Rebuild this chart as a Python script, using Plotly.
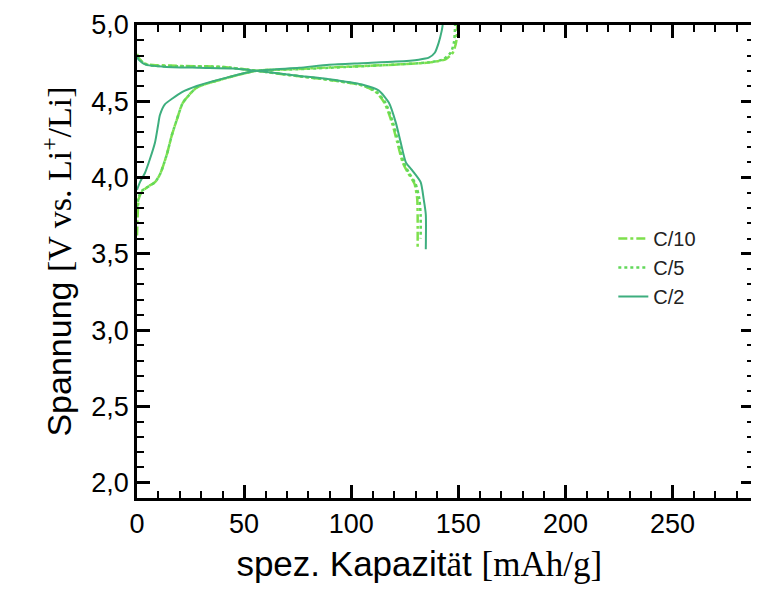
import plotly.graph_objects as go

# --- data (capacity in mAh/g, voltage in V) ---
c2_charge_cap = [0, 1.4, 3.7, 6, 8.4, 9.8, 10.7, 13, 16.7, 21, 27.9, 43.2, 55.8, 75.7, 89.7, 105, 120.8, 131.5, 136.2, 139, 140.8, 142.2, 142.7]
c2_charge_v = [3.92, 3.97, 4.03, 4.12, 4.23, 4.34, 4.41, 4.48, 4.52, 4.56, 4.60, 4.66, 4.70, 4.72, 4.74, 4.75, 4.76, 4.773, 4.786, 4.818, 4.883, 4.96, 5.0]
c2_dis_cap = [0, 1, 4, 12, 29, 45, 55.8, 75, 89.7, 105, 112.9, 117.6, 120.8, 123.1, 125.5, 128.3, 132.4, 133.8, 134.8, 134.8]
c2_dis_v = [4.79, 4.77, 4.74, 4.727, 4.72, 4.715, 4.70, 4.668, 4.645, 4.61, 4.57, 4.49, 4.36, 4.23, 4.10, 4.05, 3.97, 3.86, 3.76, 3.53]

c5_charge_cap = [0, 0.8, 2, 4, 8.4, 10.7, 13.9, 16.3, 18.6, 21.4, 27.9, 38.6, 55.8, 75, 90, 120, 136, 143, 146.5, 148, 148.5]
c5_charge_v = [3.80, 3.87, 3.91, 3.93, 3.97, 4.02, 4.15, 4.28, 4.38, 4.49, 4.59, 4.64, 4.70, 4.71, 4.72, 4.74, 4.755, 4.775, 4.82, 4.89, 5.0]
c5_dis_cap = [0, 1, 3, 6, 20, 40, 55.8, 75, 90, 105, 112, 116, 119.5, 122, 124.5, 127, 130, 131.8, 132.4, 132.4]
c5_dis_v = [4.80, 4.78, 4.75, 4.735, 4.73, 4.725, 4.70, 4.665, 4.64, 4.605, 4.56, 4.49, 4.36, 4.23, 4.10, 4.03, 3.96, 3.86, 3.75, 3.60]

c10_charge_cap = [0, 0.3, 0.8, 2, 5, 8.4, 10.7, 13.9, 16.3, 18.6, 21.4, 27.9, 38.6, 55.8, 75, 90, 120, 137, 144, 147.5, 149, 149.5]
c10_charge_v = [3.62, 3.75, 3.86, 3.90, 3.94, 3.97, 4.02, 4.15, 4.28, 4.38, 4.49, 4.59, 4.64, 4.70, 4.712, 4.722, 4.74, 4.755, 4.775, 4.82, 4.89, 5.0]
c10_dis_cap = [0, 1, 3, 6, 20, 40, 55.8, 75, 90, 105, 111.5, 115.5, 119, 121.5, 124, 126.5, 129.5, 130.8, 131, 131]
c10_dis_v = [4.81, 4.78, 4.75, 4.74, 4.732, 4.725, 4.70, 4.665, 4.64, 4.605, 4.56, 4.49, 4.36, 4.23, 4.10, 4.03, 3.96, 3.86, 3.75, 3.53]

x_ticks = [0, 50, 100, 150, 200, 250]
y_ticks = [2.0, 2.5, 3.0, 3.5, 4.0, 4.5, 5.0]

series = [
    ("C/10", "#7ee04c", "dashdot", 2.5, [(c10_charge_cap, c10_charge_v), (c10_dis_cap, c10_dis_v)]),
    ("C/5", "#62d85a", "dot", 2.5, [(c5_charge_cap, c5_charge_v), (c5_dis_cap, c5_dis_v)]),
    ("C/2", "#3dae7e", "solid", 2, [(c2_charge_cap, c2_charge_v), (c2_dis_cap, c2_dis_v)]),
]

fig = go.Figure()
for name, color, dash, width, curves in series:
    for i, (xs, ys) in enumerate(curves):
        fig.add_trace(go.Scatter(
            x=xs, y=ys, mode="lines", name=name, legendgroup=name,
            showlegend=(i == 0),
            line=dict(color=color, dash=dash, width=width, shape="spline", smoothing=0.6),
        ))

axis_common = dict(
    showline=True, linecolor="black", linewidth=2.5, mirror="allticks",
    ticks="inside", ticklen=13, tickwidth=2.5, tickcolor="black",
    showgrid=False, zeroline=False, ticklabeloverflow="allow",
    tickfont=dict(family="Liberation Sans, Arial", size=27, color="black"),
)

# trailing padding (non-breaking spaces closed by a zero-width char) shifts the centred title left
PAD = "\u00a0" * 6 + "\u200b"

# page body has an 8px margin: compensate so the plot area sits at 137..757 x 22..498
fig.update_layout(
    width=751, height=592,
    margin=dict(l=129, r=2, t=14, b=102),
    paper_bgcolor="white", plot_bgcolor="white",
    separators=",.",
    font=dict(family="Liberation Sans, Arial", color="black"),
    xaxis=dict(
        range=[0, 288], tickvals=x_ticks,
        minor=dict(dtick=10, tick0=0, ticks="inside", ticklen=7, tickwidth=1.5, tickcolor="black"),
        title=dict(text="spez. Kapazit<span style='font-family:Liberation Serif'>ä</span>t "
                        "<span style='font-family:Liberation Serif'>[mAh/g]" + PAD + "</span>",
                   font=dict(size=35), standoff=14),
        **axis_common,
    ),
    yaxis=dict(
        range=[1.9, 5.0], tickvals=y_ticks, tickformat=".1f",
        minor=dict(dtick=0.1, tick0=0, ticks="inside", ticklen=7, tickwidth=1.5, tickcolor="black"),
        title=dict(text="Spannung <span style='font-family:Liberation Serif'>[V vs. Li<sup>+</sup>/Li]</span>",
                   font=dict(size=34), standoff=10),
        **axis_common,
    ),
    legend=dict(
        x=0.772, y=0.59, xanchor="left", yanchor="top",
        bgcolor="rgba(0,0,0,0)", font=dict(size=20, color="#222"),
        itemwidth=30, tracegroupgap=0,
    ),
)

fig.write_html("out.html")
